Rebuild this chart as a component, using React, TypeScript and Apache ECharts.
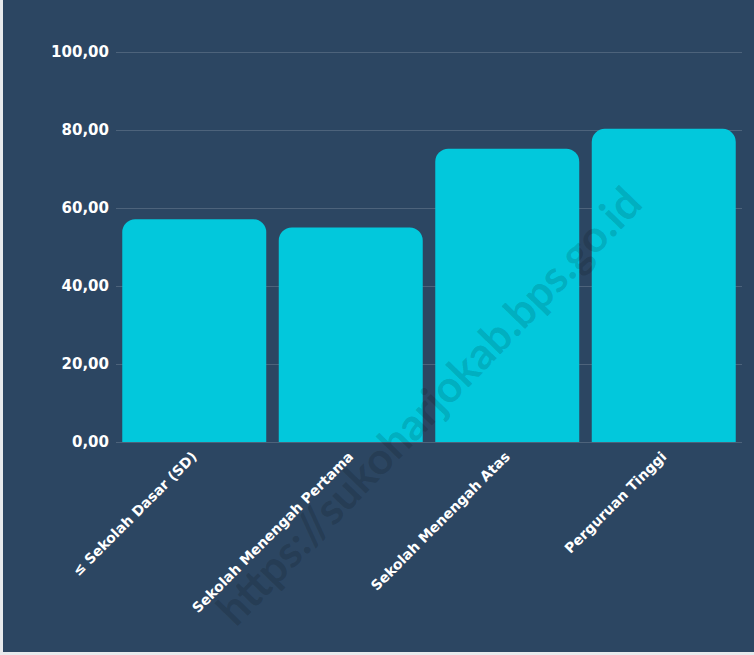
import React, { useEffect, useRef } from "react";
import * as echarts from "echarts";

const categories = [
  "≤ Sekolah Dasar (SD)",
  "Sekolah Menengah Pertama",
  "Sekolah Menengah Atas",
  "Perguruan Tinggi",
];
const values = [57.1, 55.0, 75.2, 80.3];
const watermark = "https://sukoharjokab.bps.go.id";

export default function App() {
  const ref = useRef<HTMLDivElement>(null);
  useEffect(() => {
    document.body.style.margin = "0";
    const chart = echarts.init(ref.current!, null, { renderer: "svg" });
    chart.setOption({
      animation: false,
      backgroundColor: "#2c4662",
      grid: { left: 116, right: 12, top: 52, bottom: 213, containLabel: false },
      xAxis: {
        type: "category",
        data: categories,
        axisLine: { show: false },
        axisTick: { show: false },
        axisLabel: {
          rotate: 45,
          interval: 0,
          margin: 12,
          color: "#ffffff",
          fontFamily: "DejaVu Sans",
          fontWeight: "bold",
          fontSize: 14,
        },
      },
      yAxis: {
        type: "value",
        min: 0,
        max: 100,
        interval: 20,
        axisLine: { show: false },
        axisTick: { show: false },
        splitLine: { lineStyle: { color: "rgba(255,255,255,0.16)", width: 1 } },
        axisLabel: {
          margin: 7,
          color: "#ffffff",
          fontFamily: "DejaVu Sans",
          fontWeight: "bold",
          fontSize: 15,
          formatter: (v: number) => v.toFixed(2).replace(".", ","),
        },
      },
      series: [
        {
          type: "bar",
          data: values,
          barCategoryGap: "8%",
          itemStyle: { color: "#02c8dc", borderRadius: [13, 13, 0, 0] },
        },
      ],
      graphic: [
        {
          type: "text",
          x: 428,
          y: 405,
          rotation: (46 * Math.PI) / 180,
          z: 100,
          style: {
            text: watermark,
            fill: "rgba(0,0,0,0.14)",
            font: "bold 44px Lato",
            textAlign: "center",
            textVerticalAlign: "middle",
          },
        },
        { type: "rect", shape: { x: 0, y: 0, width: 3, height: 655 }, style: { fill: "#e8eaec" }, z: 101 },
        { type: "rect", shape: { x: 0, y: 652, width: 754, height: 3 }, style: { fill: "#e8eaec" }, z: 101 },
      ],
    });
    return () => chart.dispose();
  }, []);
  return <div ref={ref} style={{ width: 754, height: 655 }} />;
}
